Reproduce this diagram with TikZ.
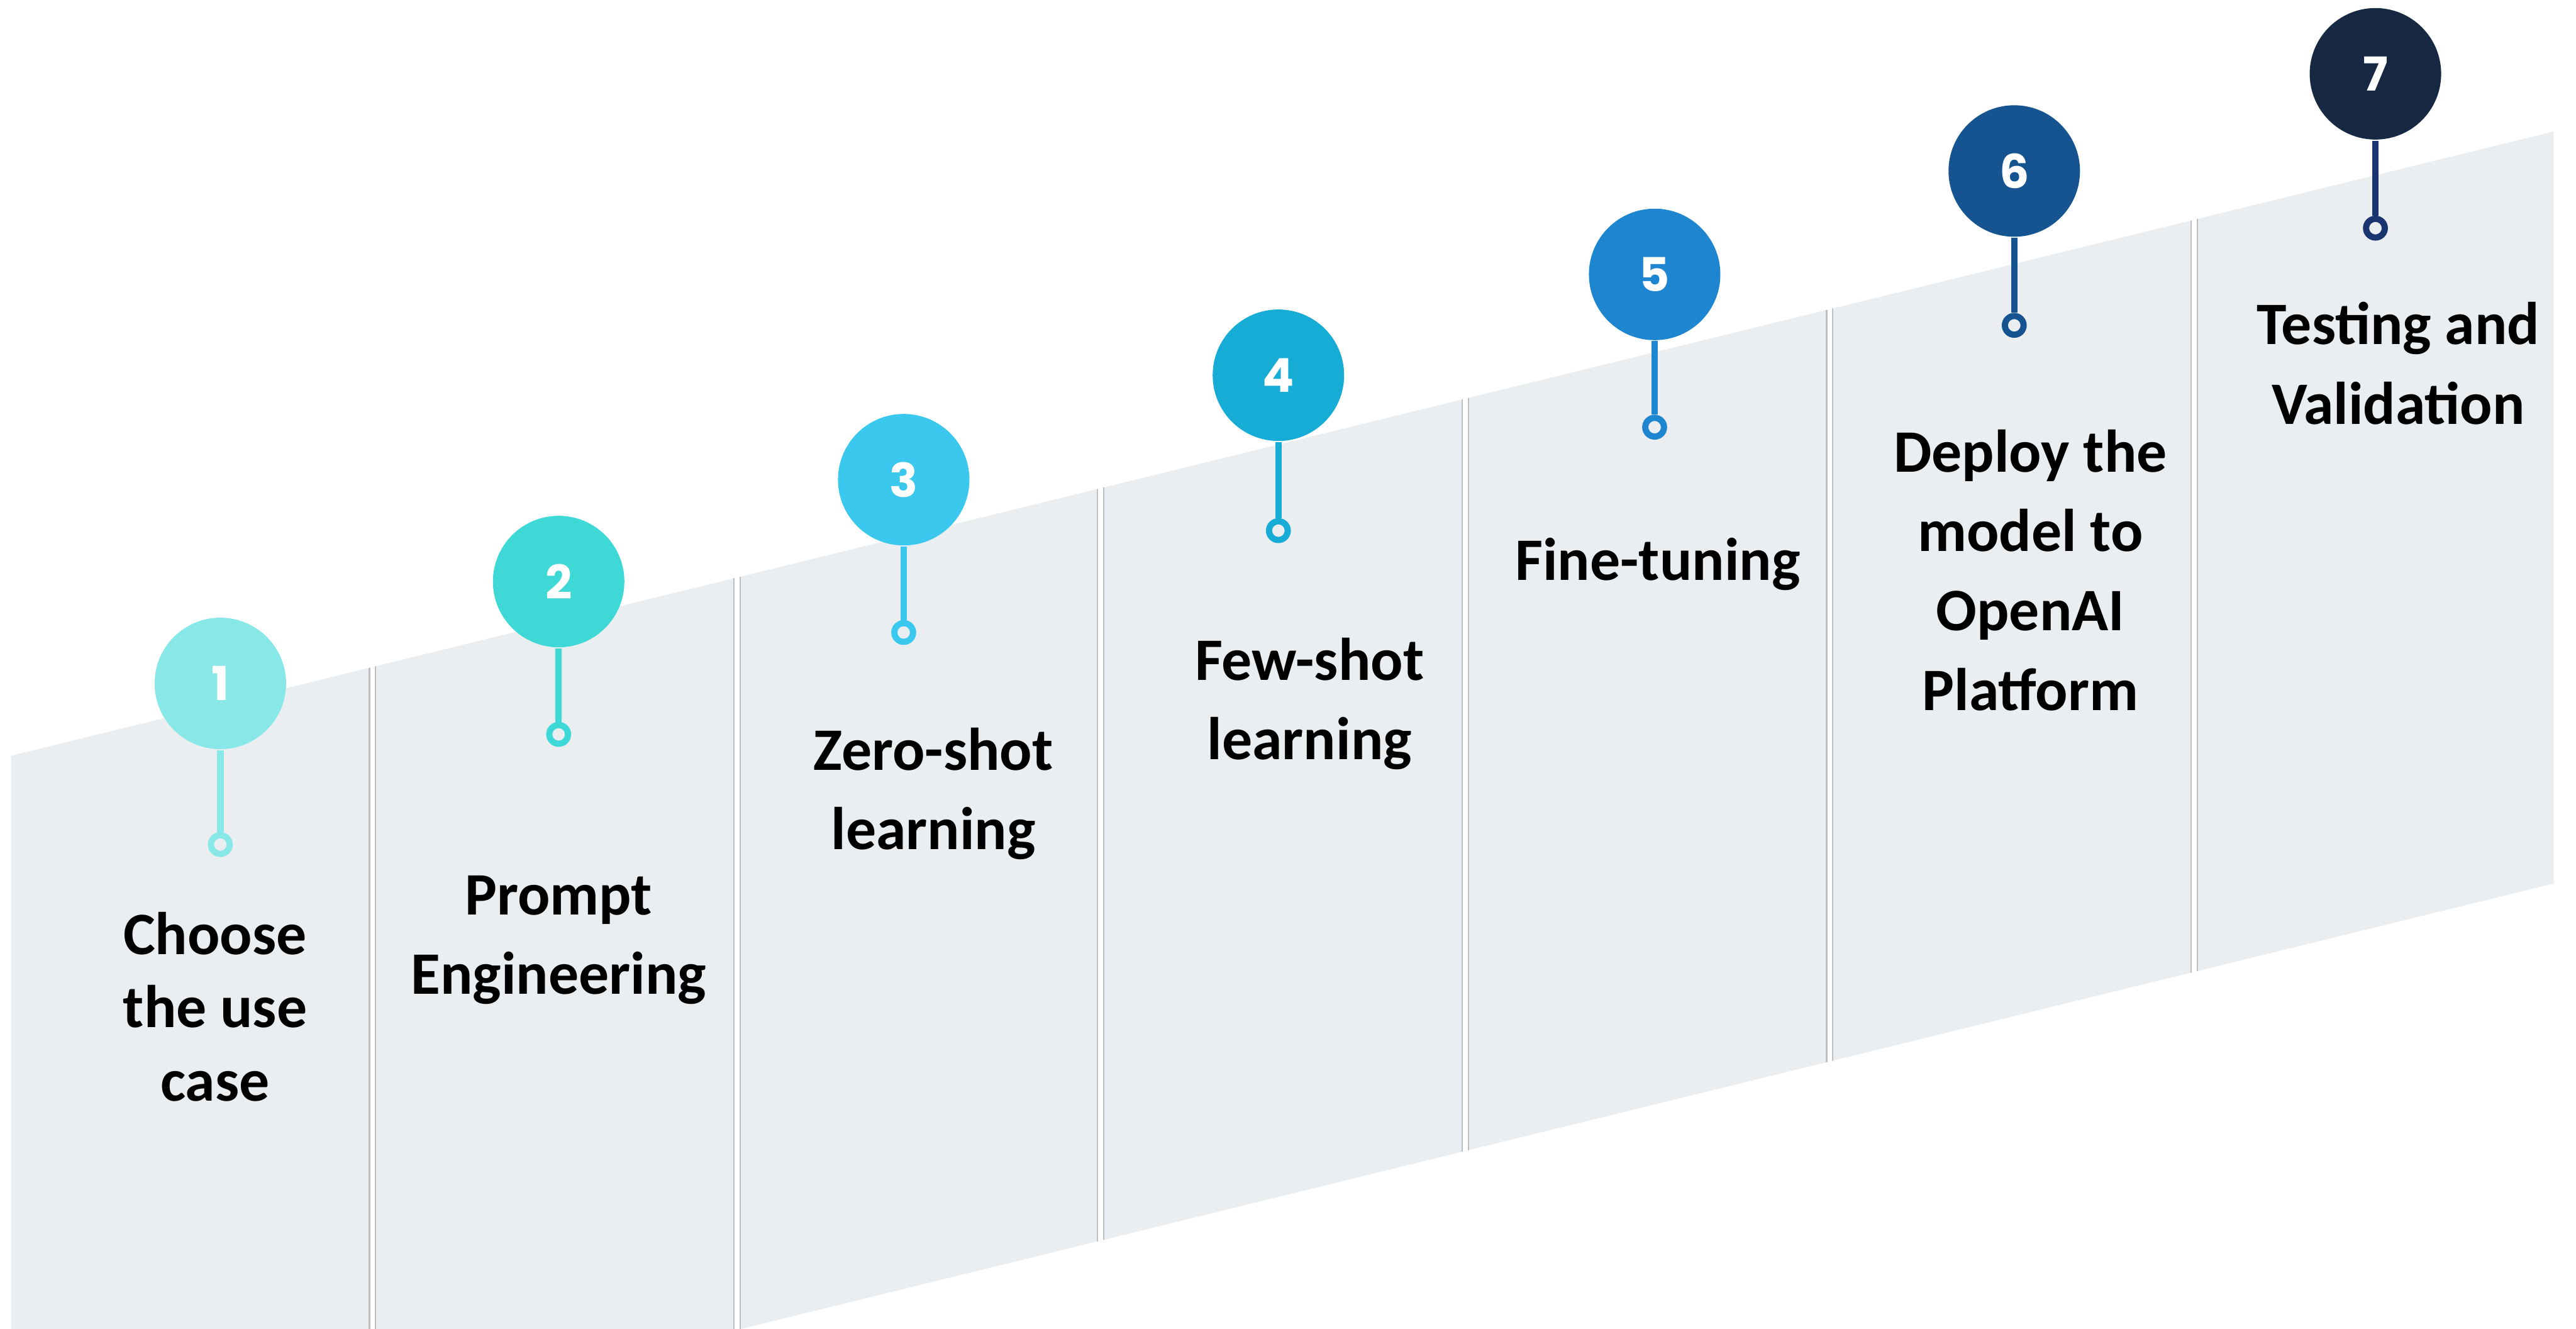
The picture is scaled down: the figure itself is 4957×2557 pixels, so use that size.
\documentclass[tikz,border=0pt]{standalone}
\usepackage{fontspec}
\setmainfont{Carlito}
\newfontfamily\numfont{Poppins}
\definecolor{bandgrey}{RGB}{235,238,241}
\definecolor{sepgrey}{RGB}{188,190,194}
\definecolor{cA}{RGB}{136,231,231}
\definecolor{cB}{RGB}{62,217,214}
\definecolor{cC}{RGB}{58,200,238}
\definecolor{cD}{RGB}{22,172,214}
\definecolor{cE}{RGB}{30,134,208}
\definecolor{cF}{RGB}{21,84,145}
\definecolor{cG}{RGB}{23,40,66}
\definecolor{cGstem}{RGB}{26,52,112}
\begin{document}
\begin{tikzpicture}[x=0.1pt,y=-0.1pt,
  stepdot/.style={circle, fill=#1, minimum size=25.3pt, inner sep=0pt, text=white,
    font=\numfont\fontsize{9}{10}\selectfont},
  ringmark/.style={circle, draw=#1, line width=1.2pt, minimum size=3.6pt, inner sep=0pt, fill=bandgrey},
  stem/.style={draw=#1, line width=1.25pt},
  steptext/.style={align=center, text=black, font=\bfseries\fontsize{11.6}{15.3}\selectfont},
]
% canvas
\useasboundingbox (0,0) rectangle (4957,2557);
\fill[white] (0,0) rectangle (4957,2557);

% rising band with column separators
\begin{scope}
  \clip (0,0) rectangle (4957,2557);
  \fill[bandgrey] (22,1454) -- (4914,253) -- (4914,1700) -- (22,2902) -- cycle;
  \clip (22,1454) -- (4914,253) -- (4914,1700) -- (22,2902) -- cycle;
  \foreach \s in {717,1418,2118,2820,3521,4222}{
    \fill[white] (\s-6,0) rectangle (\s+6,2557);
    \draw[sepgrey, line width=0.25pt] (\s-6,0) -- (\s-6,2557) (\s+6,0) -- (\s+6,2557);
  }
\end{scope}

% numbered markers
\node[stepdot=cA] (c1) at (424,1315) {\bfseries 1};
\node[stepdot=cB] (c2) at (1075,1119) {\bfseries 2};
\node[stepdot=cC] (c3) at (1739,923) {\bfseries 3};
\node[stepdot=cD] (c4) at (2460,722) {\bfseries 4};
\node[stepdot=cE] (c5) at (3184,528) {\bfseries 5};
\node[stepdot=cF] (c6) at (3876,329) {\bfseries 6};
\node[stepdot=cG] (c7) at (4571,142) {\bfseries 7};

\node[ringmark=cA] (r1) at (424,1625) {};
\node[ringmark=cB] (r2) at (1075,1413) {};
\node[ringmark=cC] (r3) at (1739,1217) {};
\node[ringmark=cD] (r4) at (2460,1021) {};
\node[ringmark=cE] (r5) at (3184,822) {};
\node[ringmark=cF] (r6) at (3876,626) {};
\node[ringmark=cGstem] (r7) at (4571,439) {};

\draw[stem=cA] (c1) -- (r1);
\draw[stem=cB] (c2) -- (r2);
\draw[stem=cC] (c3) -- (r3);
\draw[stem=cD] (c4) -- (r4);
\draw[stem=cE] (c5) -- (r5);
\draw[stem=cF] (c6) -- (r6);
\draw[stem=cGstem] (c7) -- (r7);

% step captions
\node[steptext, font=\bfseries\fontsize{11.6}{14.1}\selectfont] (t1) at (414,1937) {Choose\\the use\\case};
\node[steptext] (t2) at (1075,1809) {Prompt\\Engineering};
\node[steptext] (t3) at (1796,1527) {Zero-shot\\learning};
\node[steptext] (t4) at (2520,1354) {Few-shot\\learning};
\node[steptext] (t5) at (3190,1085) {Fine-tuning};
\node[steptext] (t6) at (3907,1097) {Deploy the\\model to\\OpenAI\\Platform};
\node[steptext] (t7) at (4615,699) {Testing and\\Validation};
\end{tikzpicture}
\end{document}
